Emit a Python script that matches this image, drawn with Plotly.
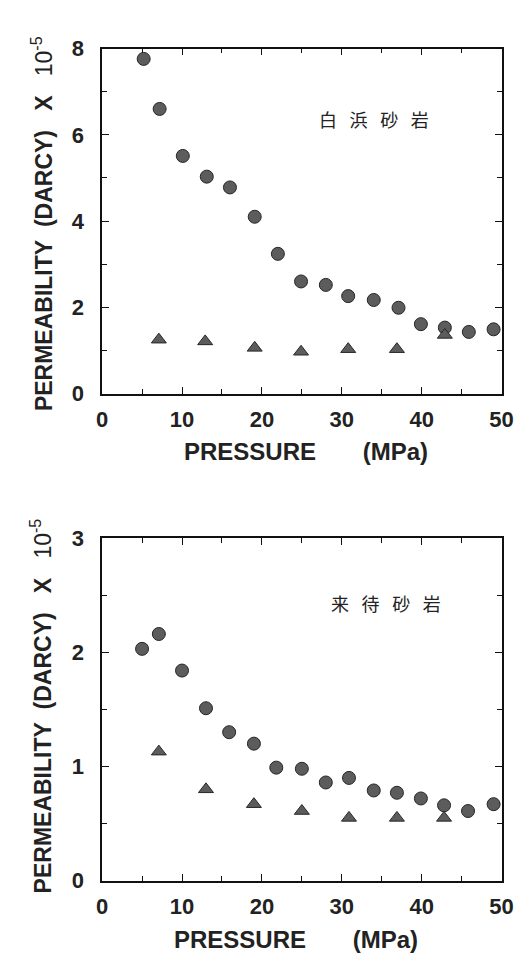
import plotly.graph_objects as go

# ---- data ----
p_circ_top = [5.2, 7.2, 10.1, 13.1, 16.0, 19.1, 22.0, 24.9, 28.0, 30.8, 34.0, 37.1, 39.9, 42.9, 45.9, 49.0]
k_circ_top = [7.76, 6.60, 5.51, 5.03, 4.78, 4.10, 3.24, 2.60, 2.52, 2.26, 2.17, 1.99, 1.61, 1.53, 1.43, 1.49]
p_tri_top = [7.1, 12.9, 19.1, 24.9, 30.8, 36.9, 42.9]
k_tri_top = [1.25, 1.21, 1.06, 0.97, 1.03, 1.03, 1.36]

p_circ_bot = [5.0, 7.1, 10.0, 13.0, 15.9, 19.0, 21.8, 25.0, 28.0, 30.9, 34.0, 36.9, 39.9, 42.8, 45.8, 49.0]
k_circ_bot = [2.03, 2.16, 1.84, 1.51, 1.30, 1.20, 0.99, 0.98, 0.86, 0.90, 0.79, 0.77, 0.72, 0.66, 0.61, 0.67]
p_tri_bot = [7.1, 13.0, 19.0, 25.0, 30.9, 36.9, 42.8]
k_tri_bot = [1.13, 0.80, 0.67, 0.61, 0.55, 0.55, 0.55]

GAP = "\u2002\u2009"
label_top = GAP.join("白浜砂岩")
label_bot = GAP.join("来待砂岩")
x_title = "PRESSURE\u00a0\u00a0\u00a0\u00a0\u00a0\u00a0\u00a0(MPa)"
y_title = ("<b>PERMEABILITY\u00a0\u00a0(DARCY)\u00a0\u00a0\u00a0X</b>\u00a0\u00a0\u00a010"
           "<sup>-5</sup>")

W, H = 530, 969
def px(x):
    return x / W
def py(y):
    return 1 - y / H

FONT = "Liberation Sans"
circ_marker = dict(symbol="circle", size=13, color="#5c5c5c", line=dict(color="#262626", width=1))
tri_marker = dict(symbol="triangle-up", size=13, color="#5c5c5c", line=dict(color="#262626", width=1))

fig = go.Figure()
fig.add_trace(go.Scatter(x=p_circ_top, y=k_circ_top, mode="markers", marker=circ_marker, xaxis="x", yaxis="y", showlegend=False))
fig.add_trace(go.Scatter(x=p_tri_top, y=k_tri_top, mode="markers", marker=tri_marker, xaxis="x", yaxis="y", showlegend=False))
fig.add_trace(go.Scatter(x=p_circ_bot, y=k_circ_bot, mode="markers", marker=circ_marker, xaxis="x2", yaxis="y2", showlegend=False))
fig.add_trace(go.Scatter(x=p_tri_bot, y=k_tri_bot, mode="markers", marker=tri_marker, xaxis="x2", yaxis="y2", showlegend=False))

tickfont = dict(family=FONT, size=22, color="#222", weight="bold")
def xaxis(domain, anchor):
    return dict(domain=domain, anchor=anchor, range=[0, 50], tickmode="linear", tick0=0, dtick=10,
                ticks="inside", ticklen=7, tickwidth=1.3, tickcolor="#111",
                minor=dict(dtick=5, ticks="inside", ticklen=5, tickwidth=1.3, tickcolor="#111"),
                showline=True, linecolor="#111", linewidth=1.6, mirror="allticks",
                showgrid=False, zeroline=False, tickfont=tickfont, ticklabelstandoff=5)
def yaxis(domain, anchor, rng, major, minor):
    return dict(domain=domain, anchor=anchor, range=rng, tickmode="linear", tick0=0, dtick=major,
                ticks="inside", ticklen=7, tickwidth=1.3, tickcolor="#111",
                minor=dict(dtick=minor, ticks="inside", ticklen=5, tickwidth=1.3, tickcolor="#111"),
                showline=True, linecolor="#111", linewidth=1.6, mirror="allticks",
                showgrid=False, zeroline=False, tickfont=tickfont, ticklabelstandoff=12)

xd = [px(99.5), px(513)]
fig.update_layout(
    width=W, height=H, margin=dict(l=0, r=0, t=0, b=0),
    paper_bgcolor="white", plot_bgcolor="white",
    xaxis=xaxis(xd, "y"),
    yaxis=yaxis([py(391.7), py(37.5)], "x", [0, 8], 2, 1),
    xaxis2=xaxis(xd, "y2"),
    yaxis2=yaxis([py(891.7), py(540)], "x2", [0, 3], 1, 0.5),
)

ann = []
title_font = dict(family=FONT, size=24, color="#222", weight="bold")
ann.append(dict(text=x_title, x=px(311), y=py(467), xref="paper", yref="paper", showarrow=False,
                font=title_font, xanchor="center", yanchor="bottom"))
ann.append(dict(text=x_title, x=px(300), y=py(968), xref="paper", yref="paper", showarrow=False,
                font=title_font, xanchor="center", yanchor="bottom"))
yfont = dict(family=FONT, size=23, color="#222")
ann.append(dict(text=y_title, x=px(38), y=py(217), xref="paper", yref="paper", showarrow=False,
                font=yfont, textangle=-90, xanchor="center", yanchor="middle"))
ann.append(dict(text=y_title, x=px(36), y=py(712), xref="paper", yref="paper", showarrow=False,
                font=yfont, textangle=-90, xanchor="center", yanchor="middle"))
jfont = dict(family="Noto Sans CJK JP", size=18, color="#222")
ann.append(dict(text=label_top, x=px(381), y=py(110), xref="paper", yref="paper", showarrow=False,
                font=jfont, xanchor="center", yanchor="middle"))
ann.append(dict(text=label_bot, x=px(393), y=py(607), xref="paper", yref="paper", showarrow=False,
                font=jfont, xanchor="center", yanchor="middle"))
fig.update_layout(annotations=ann)

fig.write_html("out.html")
